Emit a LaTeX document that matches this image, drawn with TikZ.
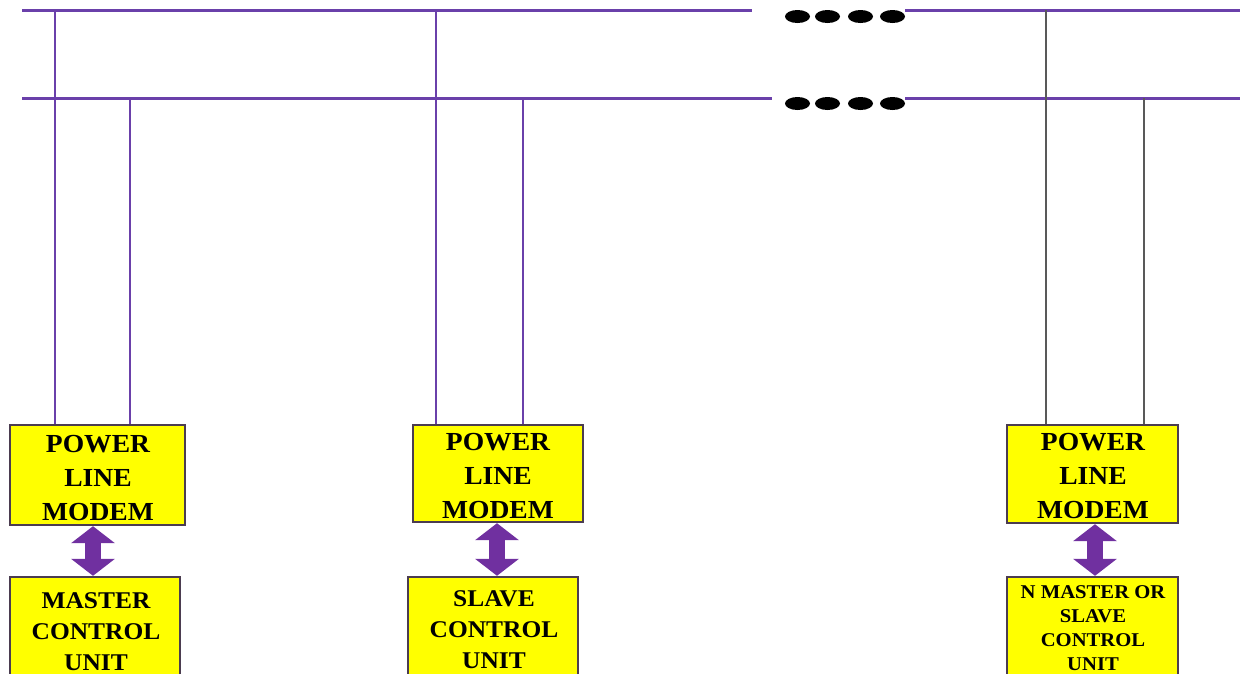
\documentclass[tikz,border=0pt]{standalone}
\usepackage{fontspec}
\setmainfont{Liberation Serif}
\newfontfamily\wideserif[FakeStretch=1.06]{Liberation Serif}
\usetikzlibrary{arrows.meta}
\definecolor{bus}{RGB}{106,64,170}
\definecolor{boxline}{RGB}{75,60,80}
\definecolor{arrowc}{RGB}{112,48,160}
\definecolor{boxfill}{RGB}{255,255,0}
\begin{document}
\begin{tikzpicture}[x=1pt,y=-1pt,
  busline/.style={draw=bus,line width=3pt},
  drop/.style={draw=bus,line width=2pt},
  dropgray/.style={draw=black!65,line width=1.8pt},
  unitbox/.style={draw=boxline,fill=boxfill,line width=2.4pt,inner sep=0pt},
  modemtext/.style={font=\wideserif\bfseries\fontsize{26}{34}\selectfont,align=center,inner sep=0pt,anchor=north},
  unittext/.style={font=\wideserif\bfseries\fontsize{24}{31}\selectfont,align=center,inner sep=0pt,anchor=north},
  smalltext/.style={font=\wideserif\bfseries\fontsize{19.5}{24}\selectfont,align=center,inner sep=0pt,anchor=north},
  dblarrow/.style={draw=arrowc,line width=16pt,{Triangle[width=43pt,length=17pt]}-{Triangle[width=43pt,length=17pt]}},
  dot/.style={fill=black,draw=none}]
\clip (0,0) rectangle (1240,673);
\fill[white] (0,0) rectangle (1240,673);
% bus lines
\coordinate (t0) at (22,10);  \coordinate (t1) at (752,10);
\coordinate (t2) at (905,10); \coordinate (t3) at (1240,10);
\coordinate (b0) at (22,98);  \coordinate (b1) at (772,98);
\coordinate (b2) at (905,98); \coordinate (b3) at (1240,98);
\path[busline] (t0) -- (t1);
\path[busline] (t2) -- (t3);
\path[busline] (b0) -- (b1);
\path[busline] (b2) -- (b3);
% dots
\foreach \x in {797.5,827.5,860.5,892.5}{
  \fill[dot] (\x,16.5) ellipse [x radius=12.5pt,y radius=6.5pt];
  \fill[dot] (\x,103.5) ellipse [x radius=12.5pt,y radius=6.5pt];
}
% boxes
\node[unitbox,minimum width=175pt,minimum height=100pt] (m1) at (97.5,475) {};
\node[unitbox,minimum width=170pt,minimum height=97pt] (m2) at (498,473.5) {};
\node[unitbox,minimum width=171pt,minimum height=98pt] (m3) at (1092.5,474) {};
\node[unitbox,minimum width=170pt,minimum height=113pt] (c1) at (95,633.5) {};
\node[unitbox,minimum width=170pt,minimum height=113pt] (c2) at (493,633.5) {};
\node[unitbox,minimum width=171pt,minimum height=113pt] (c3) at (1092.5,633.5) {};
% drop lines
\coordinate (d1a) at (55,10);   \coordinate (d1b) at (130,98);
\coordinate (d2a) at (436,10);  \coordinate (d2b) at (523,98);
\coordinate (d3a) at (1046,10); \coordinate (d3b) at (1144,98);
\path[drop] (d1a) -- (d1a |- m1.north);
\path[drop] (d1b) -- (d1b |- m1.north);
\path[drop] (d2a) -- (d2a |- m2.north);
\path[drop] (d2b) -- (d2b |- m2.north);
\path[dropgray] (d3a) -- (d3a |- m3.north);
\path[dropgray] (d3b) -- (d3b |- m3.north);
% texts
\node[modemtext] (m1t) at (98,435) {POWER\\LINE\\MODEM};
\node[modemtext] (m2t) at (498,433) {POWER\\LINE\\MODEM};
\node[modemtext] (m3t) at (1093,433) {POWER\\LINE\\MODEM};
\node[unittext] (c1t) at (96,592) {MASTER\\CONTROL\\UNIT};
\node[unittext] (c2t) at (494,590) {SLAVE\\CONTROL\\UNIT};
\node[smalltext] (c3t) at (1093,585) {N MASTER OR\\SLAVE\\CONTROL\\UNIT};
% arrows
\coordinate (a1) at (93,0); \coordinate (a2) at (497,0); \coordinate (a3) at (1095,0);
\path[dblarrow] (a1 |- m1.south) -- (a1 |- c1.north);
\path[dblarrow] (a2 |- m2.south) -- (a2 |- c2.north);
\path[dblarrow] (a3 |- m3.south) -- (a3 |- c3.north);
\end{tikzpicture}
\end{document}
